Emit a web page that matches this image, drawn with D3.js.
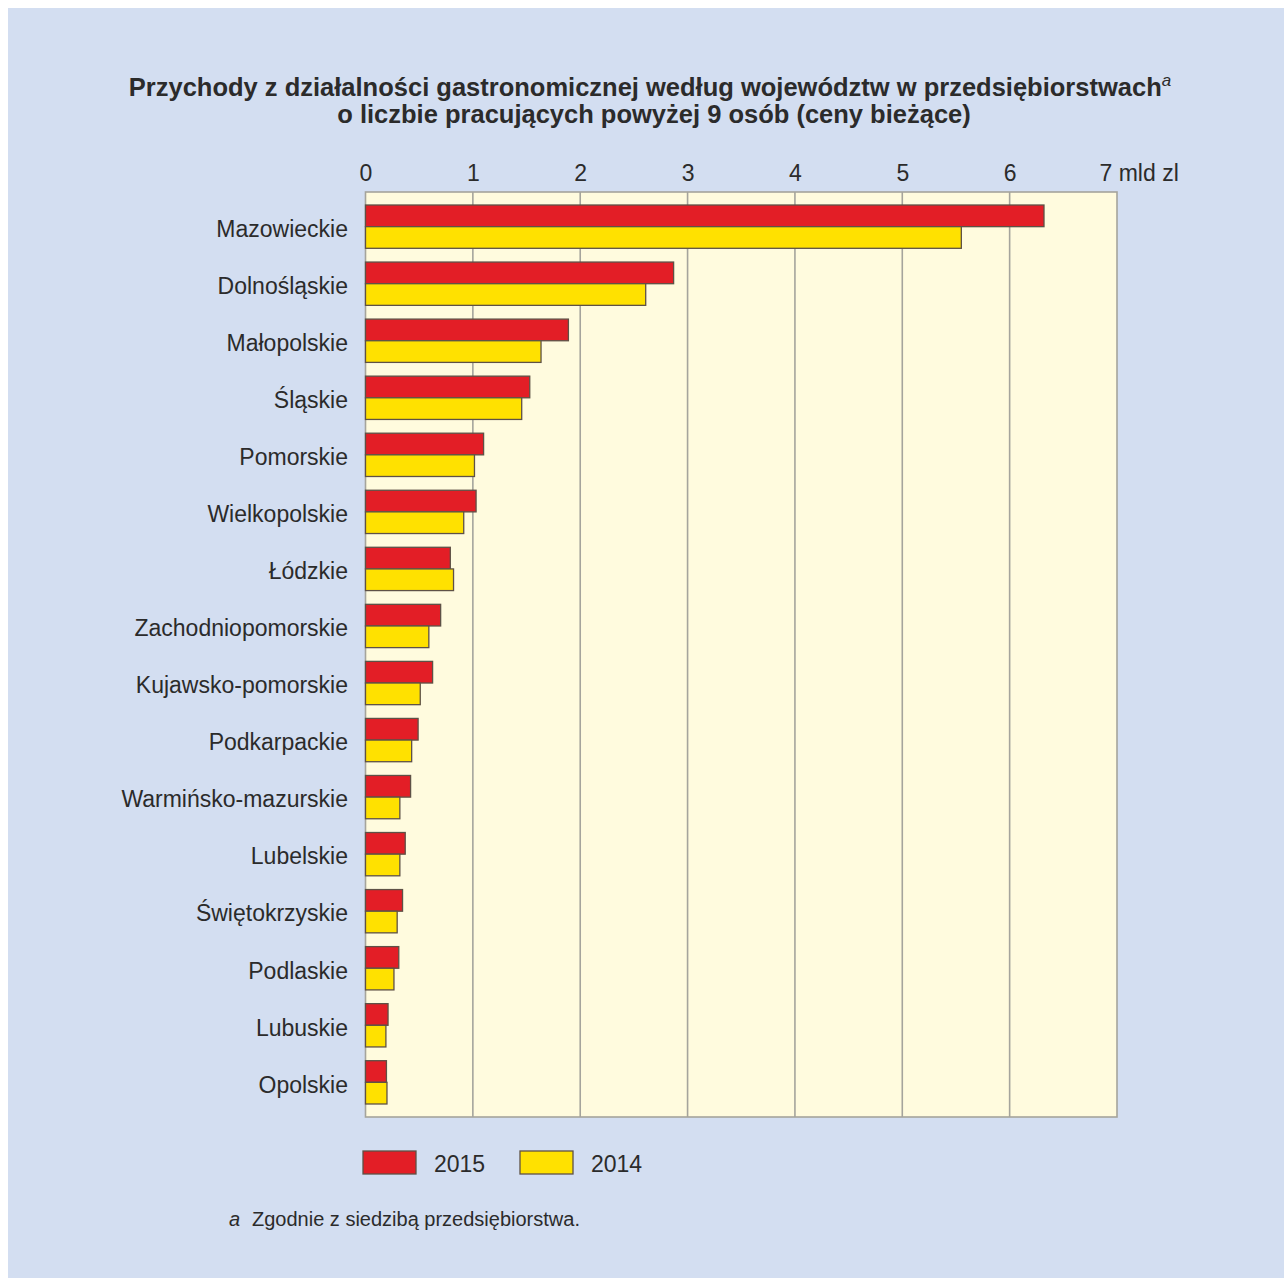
<!DOCTYPE html>
<html>
<head>
<meta charset="utf-8">
<script src="https://cdn.jsdelivr.net/npm/d3@7"></script>
<style>
  html, body { margin: 0; padding: 0; background: #ffffff; }
  svg { display: block; }
  text { font-family: "Liberation Sans", Arial, Helvetica, sans-serif; fill: #2b2b2b; }
</style>
</head>
<body>
<svg id="chart" width="1284" height="1278"></svg>
<script>
// Voivodeships, ordered by 2015 revenue
const regions = [
  "Mazowieckie", "Dolnośląskie", "Małopolskie", "Śląskie", "Pomorskie",
  "Wielkopolskie", "Łódzkie", "Zachodniopomorskie", "Kujawsko-pomorskie",
  "Podkarpackie", "Warmińsko-mazurskie", "Lubelskie", "Świętokrzyskie",
  "Podlaskie", "Lubuskie", "Opolskie"
];
// Revenue, bln zł
const values2015 = [6.32, 2.87, 1.89, 1.53, 1.10, 1.03, 0.79, 0.70, 0.625, 0.49, 0.42, 0.37, 0.345, 0.31, 0.21, 0.195];
const values2014 = [5.55, 2.61, 1.635, 1.455, 1.015, 0.915, 0.82, 0.59, 0.51, 0.43, 0.32, 0.32, 0.295, 0.265, 0.19, 0.20];
const seriesNames = ["2015", "2014"];
const seriesColors = ["#e31e26", "#ffe100"];
const xTicks = [0, 1, 2, 3, 4, 5, 6, 7];
const unitLabel = "mld zl";

const svg = d3.select("#chart");

// page background
svg.append("rect").attr("x", 8).attr("y", 8).attr("width", 1276).attr("height", 1270).attr("fill", "#d3def1");

const plot = { left: 365.5, right: 1117, top: 192, bottom: 1117 };

const x = d3.scaleLinear().domain([0, 7]).range([plot.left, plot.right]);
const y = d3.scaleBand().domain(regions).range([plot.top, plot.bottom])
  .paddingInner(0.241).paddingOuter(0.228);
const sub = d3.scaleBand().domain(seriesNames).range([0, y.bandwidth()]);

// title
const title = svg.append("text").attr("text-anchor", "middle")
  .style("font-weight", "bold").style("font-size", "25.5px");
title.append("tspan").attr("x", 650).attr("y", 96)
  .text("Przychody z działalności gastronomicznej według województw w przedsiębiorstwach");
title.append("tspan").attr("dy", "-10").style("font-size", "17px").style("font-style", "italic").style("font-weight", "normal").text("a");
svg.append("text").attr("text-anchor", "middle").attr("x", 654).attr("y", 123)
  .style("font-weight", "bold").style("font-size", "25.5px")
  .text("o liczbie pracujących powyżej 9 osób (ceny bieżące)");

// plot area
svg.append("rect").attr("x", plot.left).attr("y", plot.top)
  .attr("width", plot.right - plot.left).attr("height", plot.bottom - plot.top)
  .attr("fill", "#fffbde");

// vertical grid
svg.append("g").selectAll("line").data(xTicks.slice(1, -1)).join("line")
  .attr("x1", d => x(d)).attr("x2", d => x(d))
  .attr("y1", plot.top).attr("y2", plot.bottom)
  .attr("stroke", "#a5a49c").attr("stroke-width", 1.6);

// frame
svg.append("rect").attr("x", plot.left).attr("y", plot.top)
  .attr("width", plot.right - plot.left).attr("height", plot.bottom - plot.top)
  .attr("fill", "none").attr("stroke", "#a5a49c").attr("stroke-width", 1.6);

// top axis labels
const axis = d3.axisTop(x).tickValues(xTicks).tickSize(0).tickPadding(0)
  .tickFormat(d => d === 7 ? `${d} ${unitLabel}` : String(d));
const ax = svg.append("g").attr("transform", `translate(0, 181)`).call(axis);
ax.select(".domain").remove();
ax.selectAll("text").attr("y", 0).attr("dy", 0)
  .style("font-size", "23px").style("font-family", "Liberation Sans, Arial, sans-serif").attr("fill", "#2b2b2b");
ax.selectAll(".tick").filter(d => d === 7).select("text")
  .attr("text-anchor", "start").attr("x", -18);

// bars
const groups = svg.append("g").selectAll("g").data(regions).join("g")
  .attr("transform", d => `translate(0, ${y(d)})`);
groups.each(function (region, i) {
  const vals = [values2015[i], values2014[i]];
  d3.select(this).selectAll("rect").data(vals).join("rect")
    .attr("x", x(0))
    .attr("y", (v, j) => sub(seriesNames[j]))
    .attr("width", v => x(v) - x(0))
    .attr("height", sub.bandwidth())
    .attr("fill", (v, j) => seriesColors[j])
    .attr("stroke", "#5e5146").attr("stroke-width", 1.3);
});

// category labels
svg.append("g").selectAll("text").data(regions).join("text")
  .attr("x", 348).attr("y", d => y(d) + y.bandwidth() / 2 + 2)
  .attr("dy", "0.36em").attr("text-anchor", "end")
  .style("font-size", "23px").text(d => d);

// legend
const legendX = [363, 520];
const lg = svg.append("g").selectAll("g").data(seriesNames).join("g")
  .attr("transform", (d, i) => `translate(${legendX[i]}, 1151)`);
lg.append("rect").attr("width", 53).attr("height", 23)
  .attr("fill", (d, i) => seriesColors[i]).attr("stroke", "#5e5146").attr("stroke-width", 1.3);
lg.append("text").attr("x", 71).attr("y", 21).style("font-size", "23px").text(d => d);

// footnote
const fn = svg.append("text").attr("x", 229).attr("y", 1226).style("font-size", "20px");
fn.append("tspan").style("font-style", "italic").text("a");
fn.append("tspan").attr("x", 252).text("Zgodnie z siedzibą przedsiębiorstwa.");
</script>
</body>
</html>
